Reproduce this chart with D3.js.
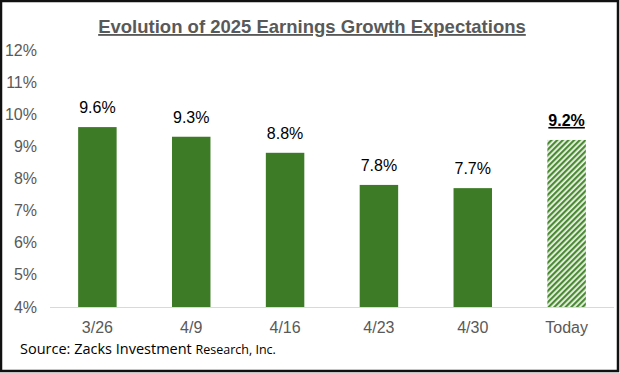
<!DOCTYPE html>
<html>
<head>
<meta charset="utf-8">
<script src="https://cdn.jsdelivr.net/npm/d3@7"></script>
<style>
  body { margin: 0; background: #fff; }
  svg { display: block; }
</style>
</head>
<body>
<div class="chart"></div>
<script>
const categories = ["3/26", "4/9", "4/16", "4/23", "4/30", "Today"];
const growthValues = [9.6, 9.3, 8.8, 7.8, 7.7, 9.2];
const yTicks = [4, 5, 6, 7, 8, 9, 10, 11, 12];

const width = 620;
const height = 373;
const green = "#3e7b27";
const gray = "#595959";

const svg = d3.select(".chart")
  .append("svg")
  .attr("width", width)
  .attr("height", height);

// hatch pattern for the "Today" bar
const defs = svg.append("defs");
const pattern = defs.append("pattern")
  .attr("id", "hatch")
  .attr("patternUnits", "userSpaceOnUse")
  .attr("width", 4)
  .attr("height", 4)
  .attr("patternTransform", "rotate(45)");
pattern.append("rect")
  .attr("width", 4).attr("height", 4).attr("fill", "#eef5e9");
pattern.append("rect")
  .attr("width", 2.2).attr("height", 4).attr("fill", "#4a8a33");

svg.append("rect")
  .attr("x", 1).attr("y", 1)
  .attr("width", width - 3).attr("height", height - 3)
  .attr("fill", "#fff")
  .attr("stroke", "#111")
  .attr("stroke-width", 2.5);

const x = d3.scaleBand()
  .domain(categories)
  .range([50, 614])
  .paddingInner(0.59)
  .paddingOuter(0.3);

const y = d3.scaleLinear()
  .domain([4, 12])
  .range([307, 50]);

// title
svg.append("text")
  .attr("x", 312)
  .attr("y", 33)
  .attr("text-anchor", "middle")
  .attr("font-family", "Liberation Sans, Arial, sans-serif")
  .attr("font-weight", "bold")
  .attr("font-size", 18.5)
  .attr("fill", gray)
  .attr("text-decoration", "underline")
  .text("Evolution of 2025 Earnings Growth Expectations");

// y axis labels
svg.append("g")
  .selectAll("text")
  .data(yTicks)
  .enter()
  .append("text")
  .attr("x", 37)
  .attr("y", d => y(d) + 5.5)
  .attr("text-anchor", "end")
  .attr("font-family", "Liberation Sans, Arial, sans-serif")
  .attr("font-size", 16)
  .attr("fill", gray)
  .text(d => d + "%");

// bars
svg.append("g")
  .selectAll("rect")
  .data(categories)
  .enter()
  .append("rect")
  .attr("x", d => x(d))
  .attr("y", (d, i) => y(growthValues[i]))
  .attr("width", x.bandwidth())
  .attr("height", (d, i) => y(4) - y(growthValues[i]))
  .attr("fill", d => d === "Today" ? "url(#hatch)" : green);

// baseline
svg.append("line")
  .attr("x1", 50).attr("x2", 614)
  .attr("y1", y(4) + 0.5).attr("y2", y(4) + 0.5)
  .attr("stroke", "#d9d9d9")
  .attr("stroke-width", 1);

// value labels
svg.append("g")
  .selectAll("text")
  .data(categories)
  .enter()
  .append("text")
  .attr("x", d => x(d) + x.bandwidth() / 2)
  .attr("y", (d, i) => y(growthValues[i]) - 14)
  .attr("text-anchor", "middle")
  .attr("font-family", "Liberation Sans, Arial, sans-serif")
  .attr("font-size", 16)
  .attr("font-weight", d => d === "Today" ? "bold" : "normal")
  .attr("text-decoration", d => d === "Today" ? "underline" : "none")
  .attr("fill", "#000")
  .text((d, i) => growthValues[i].toFixed(1) + "%");

// x axis labels
svg.append("g")
  .selectAll("text")
  .data(categories)
  .enter()
  .append("text")
  .attr("x", d => x(d) + x.bandwidth() / 2)
  .attr("y", 333)
  .attr("text-anchor", "middle")
  .attr("font-family", "Liberation Sans, Arial, sans-serif")
  .attr("font-size", 16)
  .attr("fill", gray)
  .text(d => d);

// source note
const source = svg.append("text")
  .attr("x", 20)
  .attr("y", 354)
  .attr("font-family", "Open Sans, DejaVu Sans, sans-serif")
  .attr("fill", "#000");
source.append("tspan").attr("font-size", 14.5).text("Source: Zacks Investment ");
source.append("tspan").attr("font-size", 12.5).text("Research, Inc.");
</script>
</body>
</html>
